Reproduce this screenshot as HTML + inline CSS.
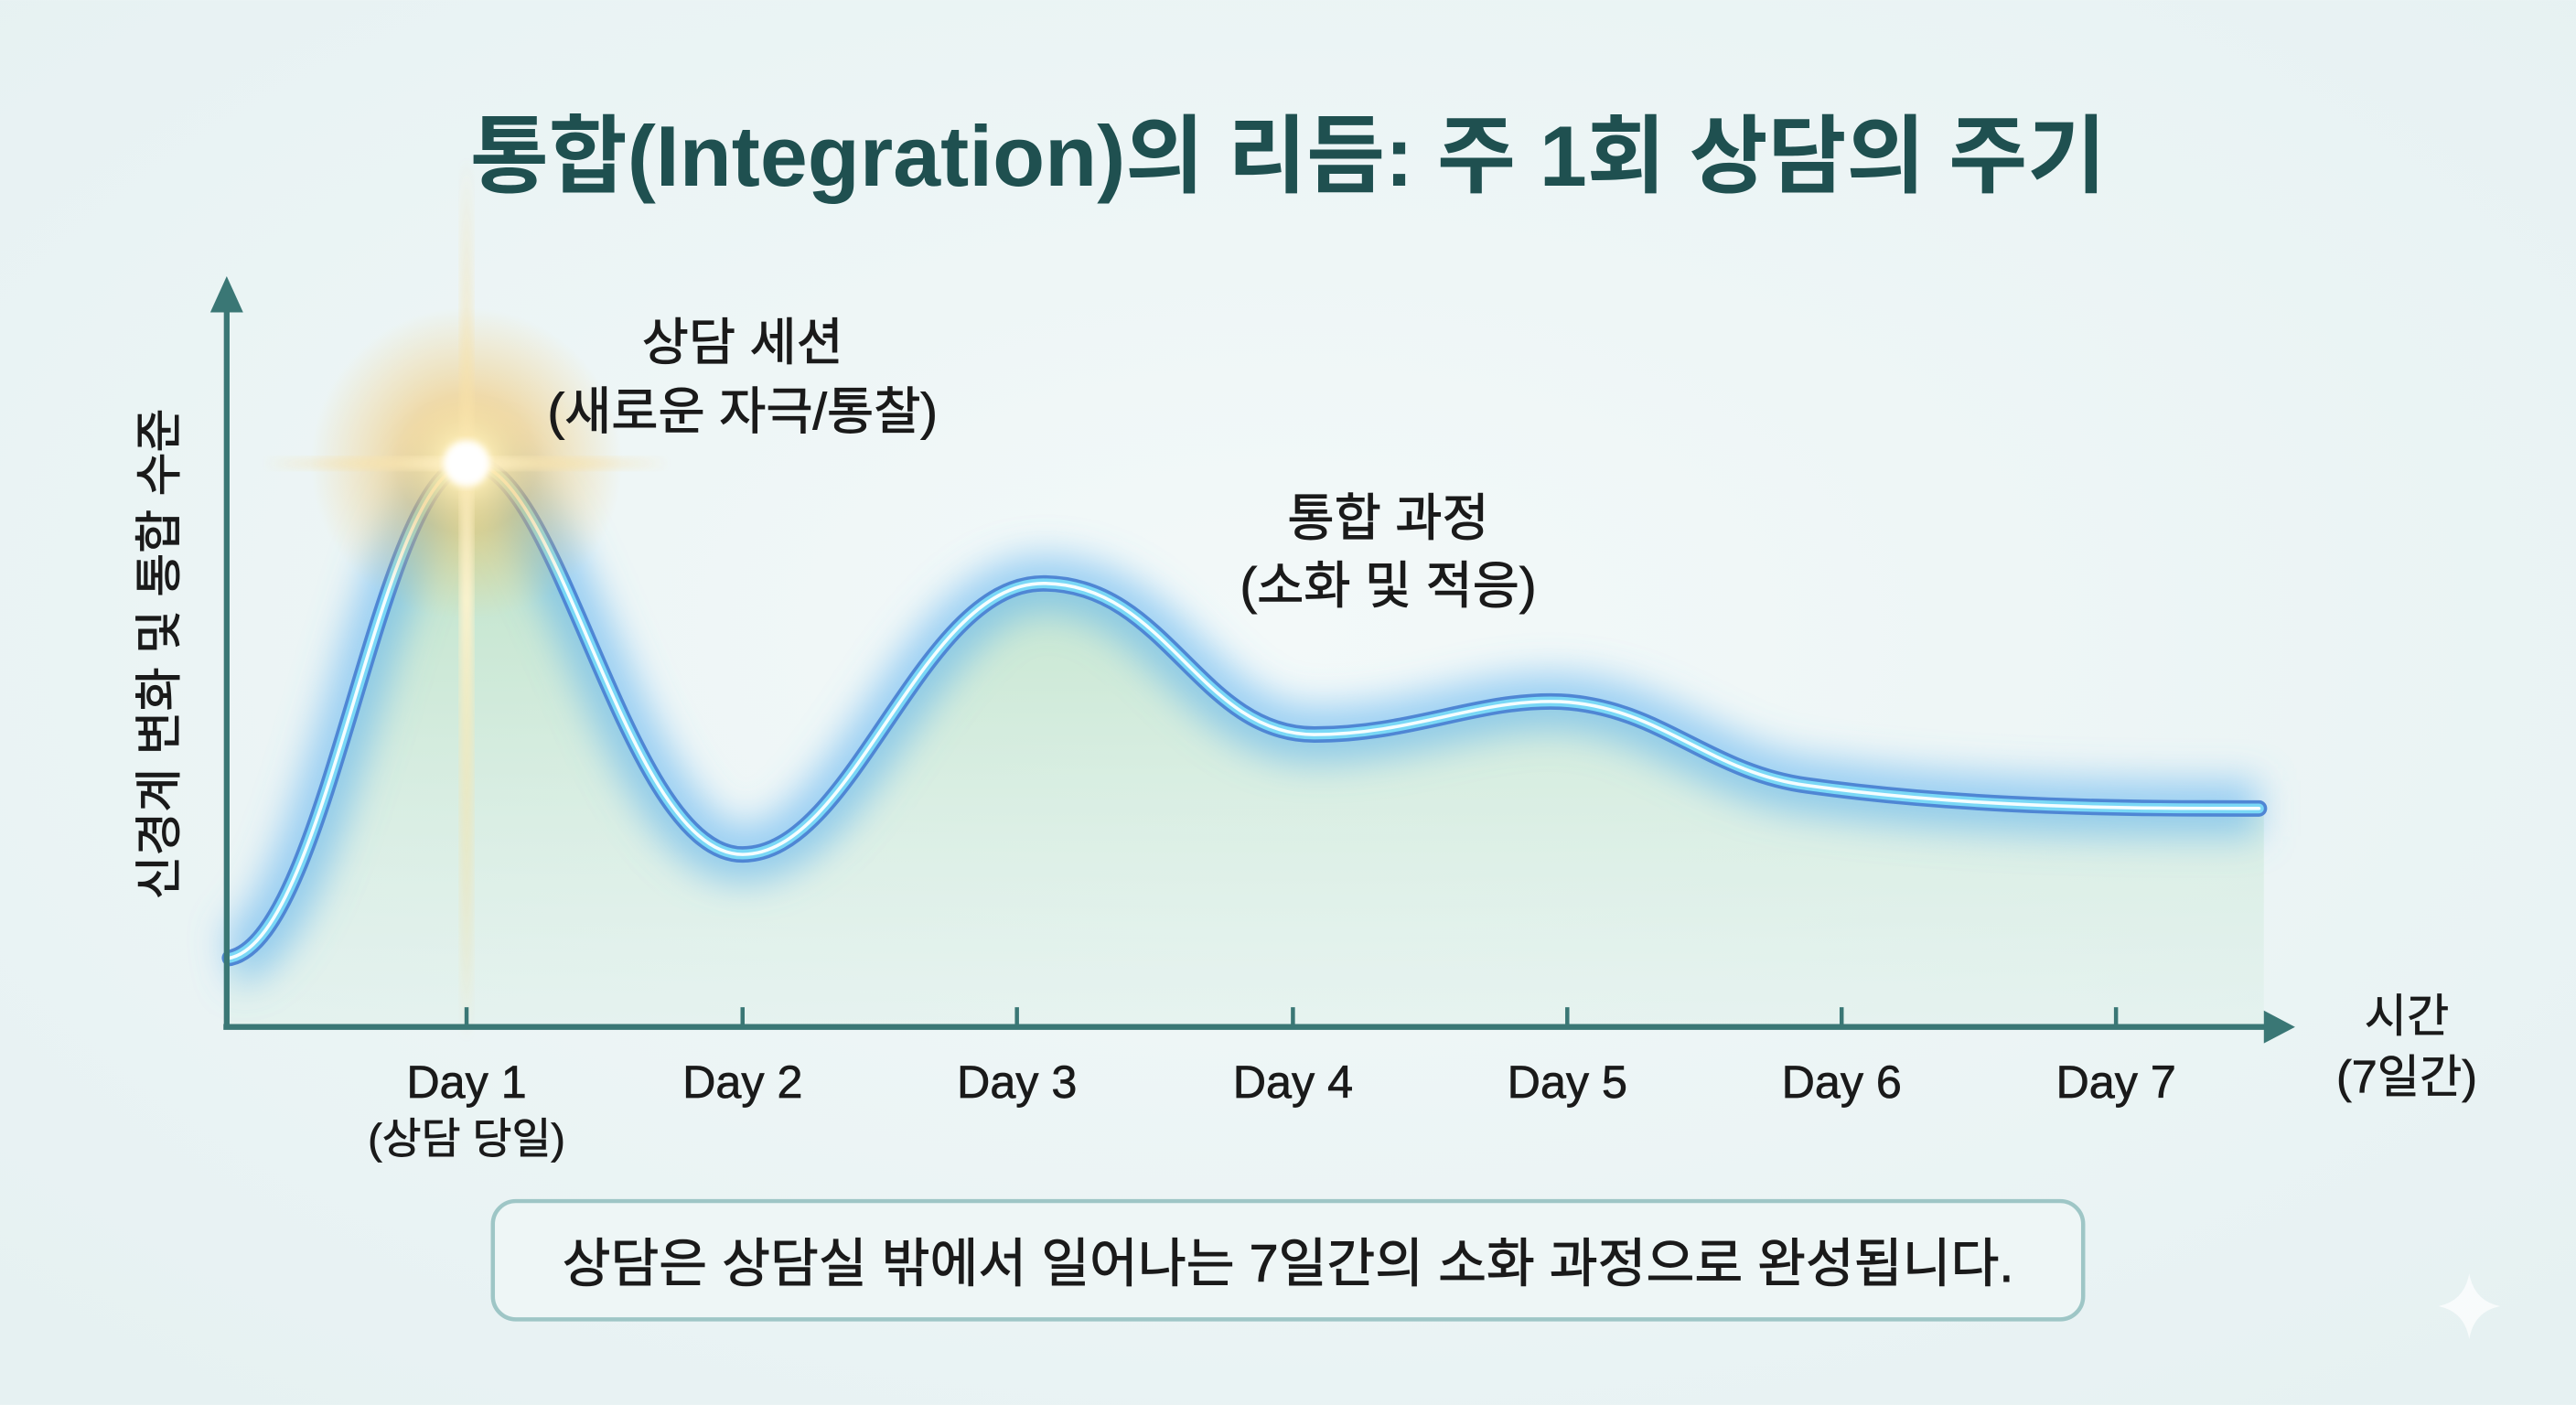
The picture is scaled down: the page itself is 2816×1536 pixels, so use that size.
<!DOCTYPE html>
<html><head><meta charset="utf-8"><style>
html,body{margin:0;padding:0;background:#eef6f6;}
svg{display:block}
text{font-family:"Liberation Sans","Noto Sans CJK KR",sans-serif;}
</style></head><body>
<svg width="2816" height="1536" viewBox="0 0 1568 855" xmlns="http://www.w3.org/2000/svg">
<defs>
<radialGradient id="bg" cx="50%" cy="45%" r="70%"><stop offset="0" stop-color="#f3f9f9"/><stop offset="1" stop-color="#e6f1f2"/></radialGradient>
<linearGradient id="fill" x1="0" y1="0" x2="0" y2="1"><stop offset="0" stop-color="#b5dfbf" stop-opacity="0.95"/><stop offset="1" stop-color="#d8eee4" stop-opacity="0.35"/></linearGradient>
<filter id="blur" x="-20%" y="-50%" width="140%" height="200%"><feGaussianBlur stdDeviation="11"/></filter>
<filter id="blur2"><feGaussianBlur stdDeviation="2"/></filter>
<radialGradient id="star" cx="50%" cy="50%" r="50%"><stop offset="0" stop-color="#ffffff"/><stop offset="0.12" stop-color="#fff0b8"/><stop offset="0.45" stop-color="#f2c060" stop-opacity="0.5"/><stop offset="1" stop-color="#f5c766" stop-opacity="0"/></radialGradient>
<linearGradient id="beamV" x1="0" y1="0" x2="0" y2="1"><stop offset="0" stop-color="#f6d07a" stop-opacity="0"/><stop offset="0.5" stop-color="#fff4cf"/><stop offset="1" stop-color="#f6d07a" stop-opacity="0"/></linearGradient>
<linearGradient id="beamH" x1="0" y1="0" x2="1" y2="0"><stop offset="0" stop-color="#f6d07a" stop-opacity="0"/><stop offset="0.5" stop-color="#fff4cf"/><stop offset="1" stop-color="#f6d07a" stop-opacity="0"/></linearGradient>
</defs>
<rect width="1568" height="855" fill="url(#bg)"/>
<text x="784" y="113" text-anchor="middle" font-size="52" font-weight="bold" fill="#1f5050">통합(Integration)의 리듬: 주 1회 상담의 주기</text>

<path d="M140,583 C200,570 230,290 284,282 C340,275 380,520 452,520 C520,520 560,355 635,355 C710,355 730,447 800,447 C860,447 900,425 950,427 C1010,430 1040,470 1100,478 C1200,492 1300,492 1378,492 L1378,625 L140,625 Z" fill="url(#fill)"/>
<path d="M140,583 C200,570 230,290 284,282 C340,275 380,520 452,520 C520,520 560,355 635,355 C710,355 730,447 800,447 C860,447 900,425 950,427 C1010,430 1040,470 1100,478 C1200,492 1300,492 1375,492" fill="none" stroke="#5fb4f0" stroke-width="34" stroke-opacity="0.6" filter="url(#blur)"/>
<path d="M140,583 C200,570 230,290 284,282 C340,275 380,520 452,520 C520,520 560,355 635,355 C710,355 730,447 800,447 C860,447 900,425 950,427 C1010,430 1040,470 1100,478 C1200,492 1300,492 1375,492" fill="none" stroke="#4f86d4" stroke-width="10" stroke-linecap="round"/>
<path d="M140,583 C200,570 230,290 284,282 C340,275 380,520 452,520 C520,520 560,355 635,355 C710,355 730,447 800,447 C860,447 900,425 950,427 C1010,430 1040,470 1100,478 C1200,492 1300,492 1375,492" fill="none" stroke="#7ad8f6" stroke-width="6" stroke-linecap="round"/>
<path d="M140,583 C200,570 230,290 284,282 C340,275 380,520 452,520 C520,520 560,355 635,355 C710,355 730,447 800,447 C860,447 900,425 950,427 C1010,430 1040,470 1100,478 C1200,492 1300,492 1375,492" fill="none" stroke="#f4fdff" stroke-width="2" stroke-linecap="round"/>

<!-- star -->
<circle cx="284" cy="282" r="95" fill="url(#star)"/>
<rect x="280" y="95" width="8" height="540" fill="url(#beamV)" opacity="0.9" filter="url(#blur2)"/>
<rect x="160" y="278" width="248" height="8" fill="url(#beamH)" opacity="0.9" filter="url(#blur2)"/>
<circle cx="284" cy="282" r="14" fill="#fff" filter="url(#blur2)"/>

<!-- axes -->
<line x1="138" y1="625" x2="138" y2="185" stroke="#3a7775" stroke-width="3.5"/>
<polygon points="138,168 128,190 148,190" fill="#3a7775"/>
<line x1="136" y1="625" x2="1382" y2="625" stroke="#3a7775" stroke-width="3.5"/>
<polygon points="1397,625 1378,615 1378,635" fill="#3a7775"/>
<g stroke="#3a7775" stroke-width="2.5">
<line x1="284" y1="613" x2="284" y2="625"/><line x1="452" y1="613" x2="452" y2="625"/><line x1="619" y1="613" x2="619" y2="625"/><line x1="787" y1="613" x2="787" y2="625"/><line x1="954" y1="613" x2="954" y2="625"/><line x1="1121" y1="613" x2="1121" y2="625"/><line x1="1288" y1="613" x2="1288" y2="625"/>
</g>
<g font-size="28" fill="#1a1a1a" text-anchor="middle" stroke="#1a1a1a" stroke-width="0.4">
<text x="284" y="668">Day 1</text><text x="452" y="668">Day 2</text><text x="619" y="668">Day 3</text><text x="787" y="668">Day 4</text><text x="954" y="668">Day 5</text><text x="1121" y="668">Day 6</text><text x="1288" y="668">Day 7</text>
<text x="284" y="702" font-size="26">(상담 당일)</text>
<text x="1465" y="628">시간</text><text x="1465" y="665">(7일간)</text>
</g>
<text transform="translate(107,398) rotate(-90)" text-anchor="middle" font-size="29" fill="#1a1a1a" stroke="#1a1a1a" stroke-width="0.5">신경계 변화 및 통합 수준</text>

<g font-size="31" fill="#1a1a1a" text-anchor="middle" stroke="#1a1a1a" stroke-width="0.5">
<text x="452" y="219">상담 세션</text><text x="452" y="261">(새로운 자극/통찰)</text>
<text x="845" y="326">통합 과정</text><text x="845" y="367">(소화 및 적응)</text>
</g>

<rect x="300" y="731" width="968" height="72" rx="14" fill="#eef6f6" stroke="#9ec6c6" stroke-width="2.5"/>
<text x="784" y="780" text-anchor="middle" font-size="32" fill="#1a1a1a" stroke="#1a1a1a" stroke-width="0.5">상담은 상담실 밖에서 일어나는 7일간의 소화 과정으로 완성됩니다.</text>
<path d="M1503,775 Q1506,792 1522,795 Q1506,798 1503,815 Q1500,798 1484,795 Q1500,792 1503,775Z" fill="#ffffff" opacity="0.7"/>
</svg>
</body></html>
